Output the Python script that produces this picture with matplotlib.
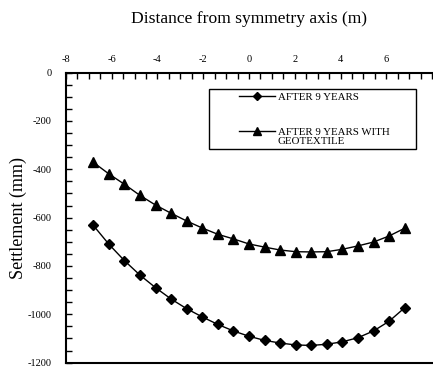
import numpy as np
import matplotlib.pyplot as plt
import matplotlib as mpl
from matplotlib.ticker import MultipleLocator
from matplotlib.patches import Rectangle

mpl.rcParams['font.family'] = 'serif'
mpl.rcParams['font.serif'] = ['Liberation Serif', 'DejaVu Serif']
mpl.rcParams['axes.unicode_minus'] = False

# distance from symmetry axis (m)
distance = [-6.8, -6.12, -5.44, -4.76, -4.08, -3.4, -2.72, -2.04, -1.36, -0.68, 0.0,
            0.68, 1.36, 2.04, 2.72, 3.4, 4.08, 4.76, 5.44, 6.12, 6.8]
# settlement (mm)
after_9_years = [-632, -710, -778, -838, -890, -937, -977, -1011, -1042, -1069, -1091,
                 -1108, -1119, -1127, -1129, -1124, -1114, -1097, -1069, -1029, -973]
after_9_years_geo = [-371, -419, -462, -508, -548, -582, -614, -643, -669, -688, -709,
                     -722, -734, -741, -742, -741, -731, -717, -701, -676, -644]

labels = ['AFTER 9 YEARS', 'AFTER 9 YEARS WITH\nGEOTEXTILE']
x_ticks = [-8, -6, -4, -2, 0, 2, 4, 6]
y_ticks = [0, -200, -400, -600, -800, -1000, -1200]

fig = plt.figure(figsize=(4.33, 3.67), dpi=100)
ax = fig.add_axes([0.152, 0.012, 0.846, 0.79])

ax.plot(distance, after_9_years, color='k', lw=1, marker='D', ms=5)
ax.plot(distance, after_9_years_geo, color='k', lw=1, marker='^', ms=6.5)

ax.set_xlim(-8, 8)
ax.set_ylim(-1200, 0)
ax.xaxis.tick_top()
ax.xaxis.set_label_position('top')
ax.set_xticks(x_ticks)
ax.set_yticks(y_ticks)
ax.xaxis.set_minor_locator(MultipleLocator(0.5))
ax.yaxis.set_minor_locator(MultipleLocator(50))
ax.tick_params(which='both', direction='in', width=1, length=4, labelsize=7.5)
ax.tick_params(axis='x', which='both', pad=6)
ax.tick_params(axis='y', which='both', pad=10)
ax.spines['right'].set_visible(False)
for s in ['top', 'left', 'bottom']:
    ax.spines[s].set_linewidth(1.5)

ax.set_xlabel('Distance from symmetry axis (m)', fontsize=12.6, labelpad=23)
ax.set_ylabel('Settlement (mm)', fontsize=13, labelpad=1)

# legend box drawn by hand so the marker sits on the first text line
ax.add_patch(Rectangle((0.391, 0.737), 0.565, 0.207, transform=ax.transAxes,
                       fill=False, ec='k', lw=1, zorder=5))
for lab, mk, ms, y in zip(labels, ['D', '^'], [4, 5.5], [0.920, 0.799]):
    ax.plot([0.473, 0.522, 0.571], [y, y, y], transform=ax.transAxes, color='k',
            lw=1, marker=mk, ms=ms, markevery=[1], clip_on=False)
    ax.text(0.579, y + 0.011, lab, transform=ax.transAxes, fontsize=7.8,
            va='top', ha='left', linespacing=1.1)

fig.savefig('out.png', dpi=100)
